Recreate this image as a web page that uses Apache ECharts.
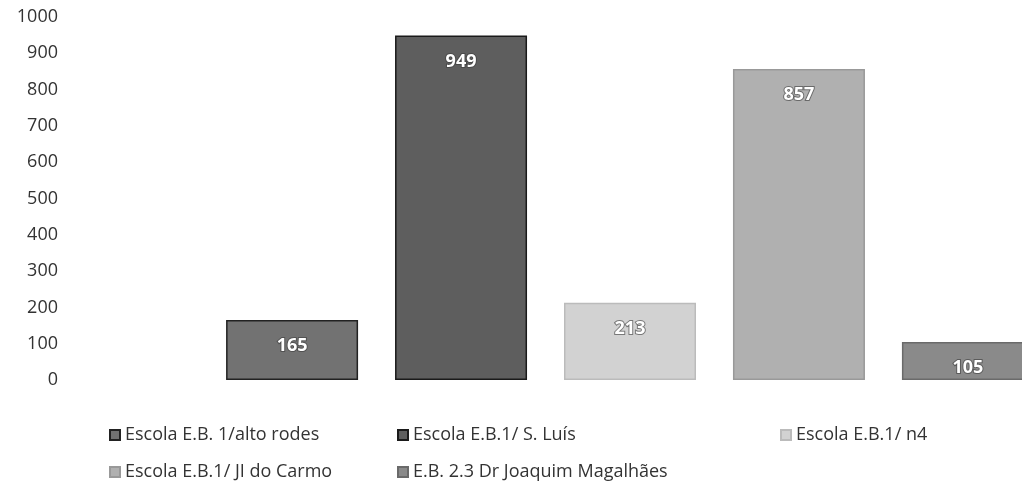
<!DOCTYPE html>
<html>
<head>
<meta charset="utf-8">
<script src="https://cdn.jsdelivr.net/npm/echarts@6/dist/echarts.min.js"></script>
<style>
  html, body { margin: 0; padding: 0; background: #fff; overflow: hidden; }
  #chart_box { width: 1200px; height: 495px; }
</style>
</head>
<body>
<div id="chart_box"></div>
<script>
// escolas e valores
var categorias = [""];
var escolas = [
  "Escola E.B. 1/alto rodes",
  "Escola E.B.1/ S. Luís",
  "Escola E.B.1/ n4",
  "Escola E.B.1/ JI do Carmo",
  "E.B. 2.3 Dr Joaquim Magalhães"
];
var valores = [165, 949, 213, 857, 105];
var yTicks = { min: 0, max: 1000, interval: 100 };

var cores = ["#727272", "#5e5e5e", "#d2d2d2", "#b0b0b0", "#8a8a8a"];
var bordas = ["#222", "#1a1a1a", "#bbbbbb", "#999999", "#6a6a6a"];
// posições da legenda (duas linhas)
var legendPos = [[104, 421], [392, 421], [775, 421], [104, 458], [392, 458]];

var mycharts = echarts.init(document.getElementById("chart_box"));

var series = escolas.map(function (nome, i) {
  return {
    name: nome,
    type: "bar",
    data: [valores[i]],
    barWidth: 132,
    barGap: "28%",
    itemStyle: { color: cores[i], borderColor: bordas[i], borderWidth: 1.5 },
    label: {
      show: true,
      position: "insideTop",
      distance: 17,
      color: "#fff",
      fontFamily: "Open Sans",
      fontSize: 18,
      fontWeight: "bold",
      textBorderColor: "rgba(60,60,60,0.6)",
      textBorderWidth: 2
    }
  };
});

var legends = escolas.map(function (nome, i) {
  return {
    data: [nome],
    left: legendPos[i][0],
    top: legendPos[i][1],
    icon: "rect",
    itemWidth: 10,
    itemHeight: 10,
    textStyle: { fontFamily: "Open Sans", fontSize: 18, color: "#333" }
  };
});

var option = {
  animation: false,
  legend: legends,
  grid: { left: 70, top: 17, width: 1120, height: 363 },
  xAxis: {
    type: "category",
    data: categorias,
    axisLine: { show: false },
    axisTick: { show: false },
    axisLabel: { show: false }
  },
  yAxis: {
    type: "value",
    min: yTicks.min,
    max: yTicks.max,
    interval: yTicks.interval,
    splitLine: { show: false },
    axisLine: { show: false },
    axisTick: { show: false },
    axisLabel: {
      margin: 12,
      color: "#333",
      fontFamily: "Open Sans",
      fontSize: 18,
      formatter: function (v) { return String(v); }
    }
  },
  series: series
};

mycharts.setOption(option);
</script>
</body>
</html>
